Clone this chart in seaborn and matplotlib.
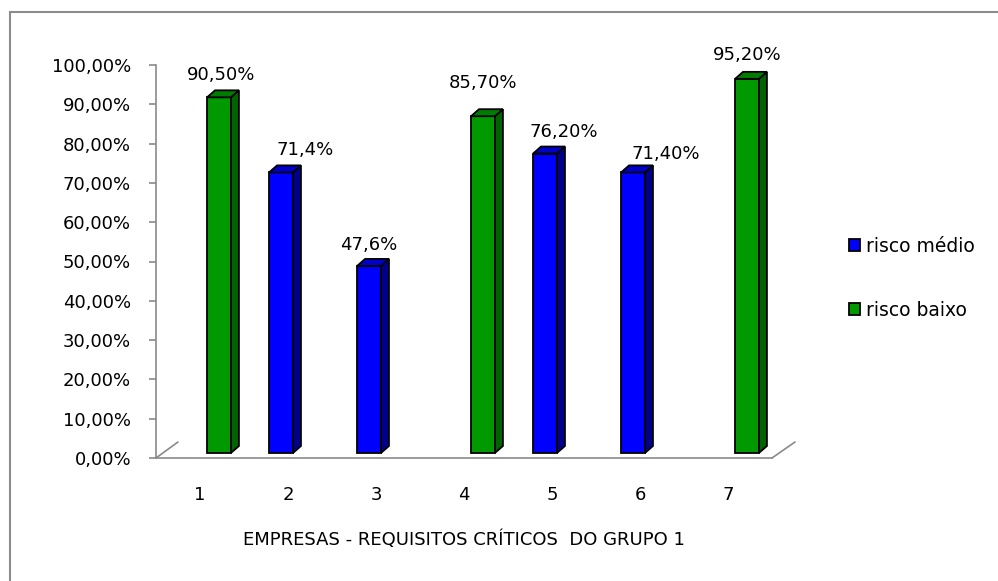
import numpy as np
import pandas as pd
import matplotlib
matplotlib.use("Agg")
import matplotlib.pyplot as plt
import matplotlib.transforms as mtransforms
from matplotlib.patches import Polygon, Patch
from matplotlib.lines import Line2D
import seaborn as sns

# data
empresas = ['1', '2', '3', '4', '5', '6', '7']
risco = ['risco baixo', 'risco médio', 'risco médio', 'risco baixo',
         'risco médio', 'risco médio', 'risco baixo']
valores = [90.5, 71.4, 47.6, 85.7, 76.2, 71.4, 95.2]
rotulos = ['90,50%', '71,4%', '47,6%', '85,70%', '76,20%', '71,40%', '95,20%']
series = ['risco médio', 'risco baixo']

# label offsets (pixels) relative to the bar top, as placed in the original
label_dx = [2, 24, 0, 0, 19, 33, 0]
label_dy = [22, 22, 21, 33, 22, 18, 24]

cores = {'risco médio': '#0000FF', 'risco baixo': '#009900'}
lado = {'risco médio': '#00008B', 'risco baixo': '#006400'}
topo = {'risco médio': '#0000C8', 'risco baixo': '#007D00'}

df = pd.DataFrame({'empresa': empresas, 'risco': risco, 'valor': valores})

sns.set_style('white')
plt.rcParams['font.family'] = ['DejaVu Sans']
plt.rcParams['text.color'] = 'black'
plt.rcParams['xtick.labelcolor'] = 'black'
plt.rcParams['ytick.labelcolor'] = 'black'
plt.rcParams['axes.labelcolor'] = 'black'

fig = plt.figure(figsize=(9.98, 5.81), dpi=100)
ax = fig.add_axes([156 / 998, 1 - 458 / 581, 616 / 998, 393 / 581])

sns.barplot(data=df, x='empresa', y='valor', hue='risco', order=empresas,
            hue_order=series, palette=cores, saturation=1, dodge=True,
            width=0.59, gap=0.08, edgecolor='black', linewidth=1.3,
            legend=False, ax=ax)

# shift bars slightly (3D floor offset) and add side / top faces
shift = ax.transData + mtransforms.ScaledTranslation(0.06, 0.05, fig.dpi_scale_trans)
dxd, dyd = 8 / 88, 7 / 3.93
patches = [p for p in ax.patches if np.isfinite(p.get_height()) and p.get_height() > 0]
patches.sort(key=lambda p: p.get_x())
for i, p in enumerate(patches):
    p.set_transform(shift)
    s = risco[i]
    x0, x1, h = p.get_x(), p.get_x() + p.get_width(), p.get_height()
    side = Polygon([(x1, 0), (x1 + dxd, dyd), (x1 + dxd, h + dyd), (x1, h)],
                   closed=True, facecolor=lado[s], edgecolor='black', lw=1.3,
                   transform=shift, clip_on=False)
    top = Polygon([(x0, h), (x0 + dxd, h + dyd), (x1 + dxd, h + dyd), (x1, h)],
                  closed=True, facecolor=topo[s], edgecolor='black', lw=1.3,
                  transform=shift, clip_on=False)
    ax.add_patch(side)
    ax.add_patch(top)
    ax.annotate(rotulos[i], (x0 + p.get_width() / 2, h), xytext=(label_dx[i] + 6, label_dy[i] + 5),
                textcoords='offset pixels', ha='center', va='center', fontsize=13,
                annotation_clip=False)

ax.set_xlim(-0.5, 6.5)
ax.set_ylim(0, 100)
ticks = np.arange(0, 101, 10)
ax.set_yticks(ticks)
ax.set_yticklabels([f"{t:.2f}%".replace('.', ',') for t in ticks], fontsize=13)
ax.set_xticks(range(len(empresas)))
ax.set_xticklabels(empresas, fontsize=13)
ax.set_xticks(np.arange(-0.5, 7, 1), minor=True)
ax.tick_params(axis='x', which='major', length=0, pad=20)
ax.tick_params(axis='x', which='minor', length=6, color='#8a8a8a', width=1.2, direction='out')
ax.tick_params(axis='y', length=5, color='#8a8a8a', width=1.2, direction='out', pad=13, left=True)
ax.set_xlabel('EMPRESAS - REQUISITOS CRÍTICOS  DO GRUPO 1', fontsize=13, labelpad=19)
ax.set_ylabel('')
for side_name in ['top', 'right']:
    ax.spines[side_name].set_visible(False)
for side_name in ['left', 'bottom']:
    ax.spines[side_name].set_color('#8a8a8a')
    ax.spines[side_name].set_linewidth(1.2)

# floor edges of the 3D plot
ax.add_line(Line2D([0, 22 / 616], [0, 16 / 393], transform=ax.transAxes,
                   color='#8a8a8a', lw=1.2, clip_on=False))
ax.add_line(Line2D([1, 1 + 23 / 616], [0, 16 / 393], transform=ax.transAxes,
                   color='#8a8a8a', lw=1.2, clip_on=False))

handles = [Patch(facecolor=cores[s], edgecolor='black', lw=1.3, label=s) for s in series]
fig.legend(handles=handles, loc='center left', bbox_to_anchor=(849 / 998, 1 - 278.5 / 581),
           frameon=False, fontsize=13.5, handlelength=0.6, handleheight=0.6,
           handletextpad=0.3, labelspacing=2.4, borderpad=0, borderaxespad=0)

# chart area border
fig.add_artist(Line2D([10 / 998, 10 / 998], [0, 1 - 12 / 581], transform=fig.transFigure,
                      color='#8c8c8c', lw=1.5))
fig.add_artist(Line2D([10 / 998, 1], [1 - 12 / 581, 1 - 12 / 581], transform=fig.transFigure,
                      color='#8c8c8c', lw=1.5))

fig.savefig('out.png', dpi=100)
